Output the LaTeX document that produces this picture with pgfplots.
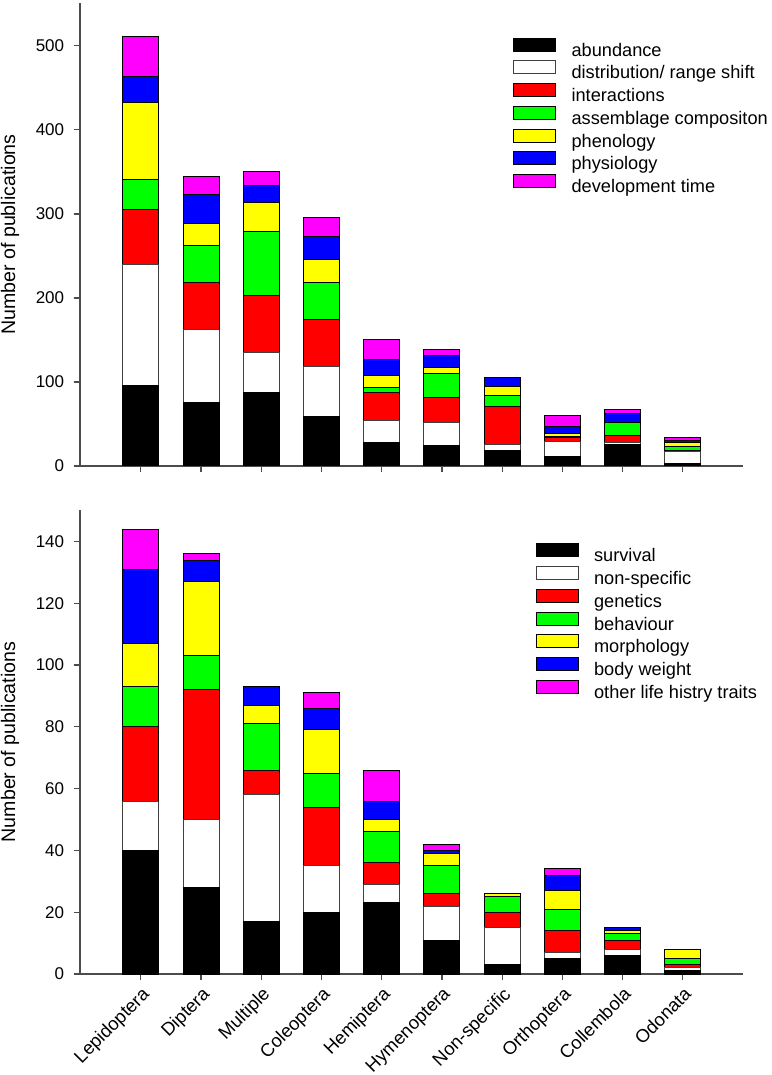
\documentclass[border=0pt]{standalone}
\usepackage{fontspec}
\setmainfont{Liberation Sans}
\usepackage{pgfplots}
\usepackage{pgfplotstable}
\pgfplotsset{compat=1.18}

\definecolor{cR}{RGB}{255,0,0}
\definecolor{cG}{RGB}{0,255,0}
\definecolor{cY}{RGB}{255,255,0}
\definecolor{cB}{RGB}{0,0,255}
\definecolor{cM}{RGB}{255,0,255}

% top panel: abundance, distribution, interactions, assemblage, phenology, physiology, development
\pgfplotstableread{
x a b c d e f g
0 96 144 65 36 92 30 48
1 75 88 55 44 27 34 22
2 88 47 68 76 34 21 16
3 59 60 55 44 28 27 23
4 28 26 34 5 15 19 23
5 24 28 30 28 7 14 8
6 19 7 45 13 11 10 0
7 11 18 5 1 4 8 13
8 25 3 8 16 0 11 4
9 3 14 1 5 5 2 4
}\toptable

% bottom panel: survival, non-specific, genetics, behaviour, morphology, body weight, other
\pgfplotstableread{
x a b c d e f g
0 40 16 24 13 14 24 13
1 28 22 42 11 24 7 2
2 17 41 8 15 6 6 0
3 20 15 19 11 14 7 5
4 23 6 7 10 4 6 10
5 11 11 4 9 4 1 2
6 3 12 5 5 1 0 0
7 5 2 7 7 6 5 2
8 6 2 3 2 1 1 0
9 1 1 1 2 3 0 0
}\bottable

\pgfplotsset{
  mybars/.style={
    scale only axis, width=331.5pt,
    xmin=-1.01, xmax=10, ymin=0,
    ybar stacked, bar width=18pt,
    axis x line*=bottom, axis y line*=left,
    axis line style={black!70, line width=0.6pt},
    tick style={black!70, line width=0.6pt},
    tick align=outside, major tick length=3.2pt,
    xtick={0,...,9},
    /pgf/number format/assume math mode=true,
    yticklabel style={font=\fontsize{8.5}{10}\selectfont, xshift=-1.2pt},
    every axis plot/.append style={draw=black, line width=0.5pt},
    legend image code/.code={\draw[##1] (0pt,0pt) rectangle (21pt,6.5pt);},
    legend cell align=left,
    legend style={draw=none, fill=none, anchor=north west, inner sep=0pt,
      font=\fontsize{9.1}{11}\selectfont,
      nodes={inner xsep=0pt, inner ysep=1pt, text height=7.2pt, text depth=2.25pt},
      row sep=-1.1pt,
      /tikz/every odd column/.style={column sep=7.6pt}},
    ylabel={Number of publications},
    every axis y label/.style={at={([xshift=-30.25pt]axis description cs:0,0.5)},
      rotate=90, anchor=south, inner sep=0pt, font=\fontsize{9.8}{12}\selectfont},
  }
}

\begin{document}
\begin{tikzpicture}
\begin{axis}[mybars, at={(0,0)}, anchor=south west,
  height=231.5pt, ymax=551, ytick={0,100,...,500},
  xticklabels={},
  legend style={at={(rel axis cs:0.653,0.926)}}]
\addplot[fill=black] table[x=x,y=a]{\toptable};
\addplot[fill=white, draw=black!75] table[x=x,y=b]{\toptable};
\addplot[fill=cR] table[x=x,y=c]{\toptable};
\addplot[fill=cG] table[x=x,y=d]{\toptable};
\addplot[fill=cY] table[x=x,y=e]{\toptable};
\addplot[fill=cB] table[x=x,y=f]{\toptable};
\addplot[fill=cM] table[x=x,y=g]{\toptable};
\legend{abundance, distribution/ range shift, interactions, assemblage compositon, phenology, physiology, development time}
\end{axis}

\begin{axis}[mybars, at={(0,-254pt)}, anchor=south west,
  height=232pt, ymax=150.2, ytick={0,20,...,140},
  xticklabels={Lepidoptera, Diptera, Multiple, Coleoptera, Hemiptera, Hymenoptera, Non-specific, Orthoptera, Collembola, Odonata},
  xticklabel style={rotate=45, anchor=north east, font=\fontsize{9.2}{10}\selectfont, inner sep=1.8pt},
  legend style={at={(rel axis cs:0.687,0.929)}}]
\addplot[fill=black] table[x=x,y=a]{\bottable};
\addplot[fill=white, draw=black!75] table[x=x,y=b]{\bottable};
\addplot[fill=cR] table[x=x,y=c]{\bottable};
\addplot[fill=cG] table[x=x,y=d]{\bottable};
\addplot[fill=cY] table[x=x,y=e]{\bottable};
\addplot[fill=cB] table[x=x,y=f]{\bottable};
\addplot[fill=cM] table[x=x,y=g]{\bottable};
\legend{survival, non-specific, genetics, behaviour, morphology, body weight, other life histry traits}
\end{axis}
\pgfresetboundingbox
\path[use as bounding box] (-40pt,-304.5pt) rectangle (345.5pt,233pt);
\end{tikzpicture}
\end{document}
